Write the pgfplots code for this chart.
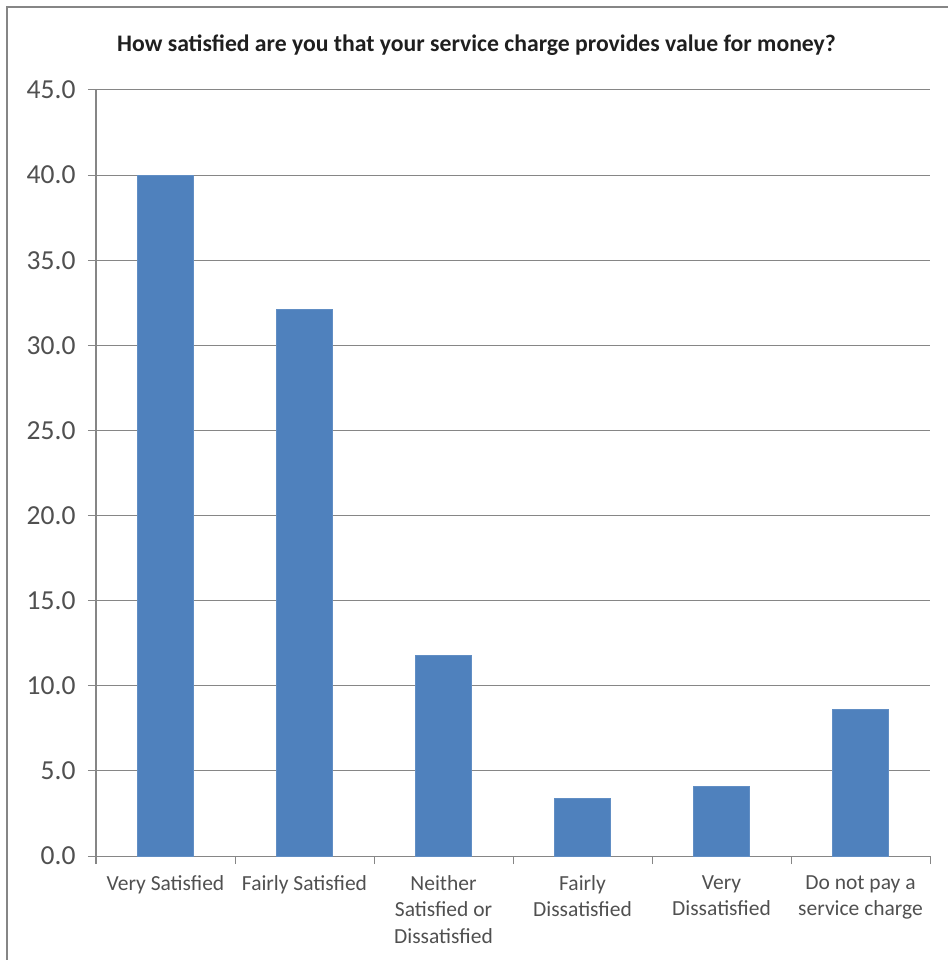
\documentclass[border=0pt]{standalone}
\usepackage{fontspec}
\setmainfont{Carlito}
\usepackage{pgfplots}
\pgfplotsset{compat=1.18}
\definecolor{barblue}{HTML}{4F81BD}
\definecolor{gridgrey}{HTML}{868686}
\definecolor{txtgrey}{HTML}{505050}
\begin{document}
\begin{tikzpicture}
\useasboundingbox (0pt,0pt) rectangle (948pt,960pt);
\draw[gridgrey,line width=1.5pt] (7pt,0pt) -- (7pt,953pt) -- (948pt,953pt);
\node[font=\fontsize{23.7}{28}\selectfont\bfseries, text=black!88] at (476.5pt,915pt) {How satisfied are you that your service charge provides value for money?};
\begin{axis}[
  at={(96pt,104pt)}, anchor=origin,
  scale only axis, width=834pt, height=766pt,
  xmin=0, xmax=6, ymin=0, ymax=45,
  ytick={0,5,...,45},
  /pgf/number format/fixed,
  /pgf/number format/fixed zerofill,
  /pgf/number format/precision=1,
  /pgf/number format/assume math mode=true,
  yticklabel style={font=\fontsize{27.5}{30}\selectfont, text=txtgrey, xshift=-9pt},
  axis x line*=bottom, axis y line*=left,
  axis line style={gridgrey, line width=1pt},
  ymajorgrids, grid style={gridgrey, line width=1pt},
  tick style={gridgrey, line width=1pt},
  ytick align=outside, major tick length=8pt,
  xtick={0.5,1.5,2.5,3.5,4.5,5.5},
  xtick style={draw=none},
  xticklabels={Very Satisfied, Fairly Satisfied, {Neither\\Satisfied or\\Dissatisfied}, {Fairly\\Dissatisfied}, {Very\\Dissatisfied}, {Do not pay a\\service charge}},
  xticklabel style={font=\fontsize{21.5}{26.5}\selectfont, text=txtgrey, align=center, anchor=north, yshift=-16pt},
  extra x ticks={0,1,2,3,4,5,6},
  extra x tick labels={},
  extra x tick style={xtick style={draw=gridgrey, line width=1pt}, tick align=outside, major tick length=8pt},
]
\addplot[ybar, bar width=56pt, fill=barblue, draw=barblue!90!white] coordinates {
(0.5,40.0) (1.5,32.1) (2.5,11.8) (3.5,3.4) (4.5,4.1) (5.5,8.6)
};
\end{axis}
\end{tikzpicture}
\end{document}
